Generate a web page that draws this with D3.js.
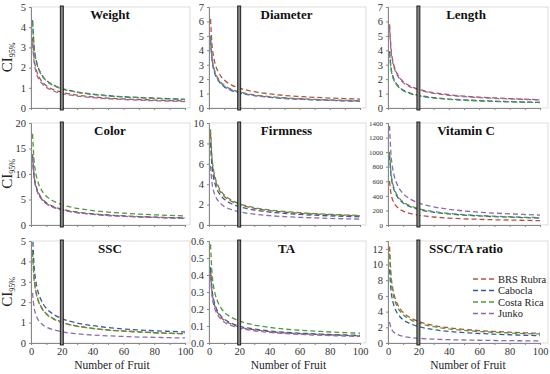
<!DOCTYPE html>
<html>
<head>
<meta charset="utf-8">
<script src="https://cdn.jsdelivr.net/npm/d3@7"></script>
<style>
  body { margin: 0; background: #fff; }
</style>
</head>
<body>
<div id="chart-area"></div>
<script>
// Data //

const fruitN = [1, 2, 3, 4, 5, 6, 8, 10, 15, 20, 30, 40, 50, 60, 70, 80, 90, 100];
const cultivars = ["BRS Rubra", "Cabocla", "Costa Rica", "Junko"];
const cultivarColors = ["#b5533c", "#3a5ba0", "#4e9a3a", "#8c6bb1"];

// one row per cultivar, same order as cultivars
const weightCI = [
  [3.49, 2.46, 2.01, 1.75, 1.56, 1.43, 1.23, 1.10, 0.90, 0.78, 0.64, 0.55, 0.49, 0.45, 0.42, 0.39, 0.37, 0.35],
  [4.34, 3.07, 2.50, 2.17, 1.94, 1.78, 1.53, 1.37, 1.12, 0.97, 0.79, 0.69, 0.61, 0.56, 0.52, 0.49, 0.46, 0.43],
  [4.25, 3.00, 2.45, 2.13, 1.90, 1.74, 1.50, 1.34, 1.10, 0.95, 0.78, 0.67, 0.60, 0.55, 0.51, 0.48, 0.45, 0.42],
  [3.22, 2.28, 1.86, 1.61, 1.44, 1.32, 1.14, 1.02, 0.83, 0.72, 0.59, 0.51, 0.46, 0.42, 0.39, 0.36, 0.34, 0.32]
];
const diameterCI = [
  [6.17, 4.36, 3.56, 3.09, 2.76, 2.53, 2.18, 1.95, 1.59, 1.38, 1.13, 0.98, 0.87, 0.80, 0.74, 0.69, 0.65, 0.62],
  [4.69, 3.32, 2.71, 2.35, 2.10, 1.92, 1.66, 1.48, 1.21, 1.05, 0.86, 0.74, 0.66, 0.61, 0.56, 0.53, 0.49, 0.47],
  [5.01, 3.54, 2.89, 2.51, 2.24, 2.05, 1.77, 1.58, 1.29, 1.12, 0.91, 0.79, 0.71, 0.65, 0.60, 0.56, 0.53, 0.50],
  [4.83, 3.41, 2.79, 2.42, 2.16, 1.98, 1.71, 1.52, 1.25, 1.08, 0.88, 0.76, 0.68, 0.62, 0.58, 0.54, 0.51, 0.48]
];
const lengthCI = [
  [5.81, 4.11, 3.35, 2.91, 2.60, 2.38, 2.05, 1.83, 1.50, 1.30, 1.06, 0.92, 0.82, 0.75, 0.70, 0.65, 0.61, 0.58],
  [3.93, 2.78, 2.27, 1.97, 1.76, 1.61, 1.39, 1.24, 1.02, 0.88, 0.72, 0.62, 0.56, 0.51, 0.47, 0.44, 0.41, 0.39],
  [3.80, 2.69, 2.19, 1.90, 1.70, 1.56, 1.34, 1.20, 0.98, 0.85, 0.69, 0.60, 0.54, 0.49, 0.45, 0.43, 0.40, 0.38],
  [5.59, 3.95, 3.23, 2.80, 2.50, 2.29, 1.98, 1.76, 1.44, 1.25, 1.02, 0.88, 0.79, 0.72, 0.67, 0.63, 0.59, 0.56]
];
const colorCI = [
  [13.9, 9.80, 8.00, 6.94, 6.20, 5.67, 4.90, 4.37, 3.58, 3.10, 2.53, 2.19, 1.96, 1.79, 1.66, 1.55, 1.46, 1.39],
  [13.4, 9.48, 7.74, 6.72, 6.00, 5.49, 4.74, 4.23, 3.47, 3.00, 2.45, 2.12, 1.90, 1.73, 1.61, 1.50, 1.41, 1.34],
  [17.9, 12.6, 10.3, 8.96, 8.00, 7.32, 6.32, 5.64, 4.62, 4.00, 3.26, 2.83, 2.53, 2.31, 2.14, 2.00, 1.88, 1.79],
  [13.2, 9.32, 7.61, 6.61, 5.90, 5.40, 4.66, 4.16, 3.41, 2.95, 2.41, 2.09, 1.86, 1.70, 1.58, 1.48, 1.39, 1.32]
];
const firmnessCI = [
  [8.94, 6.32, 5.16, 4.48, 4.00, 3.66, 3.16, 2.82, 2.31, 2.00, 1.63, 1.41, 1.26, 1.15, 1.07, 1.00, 0.94, 0.89],
  [8.05, 5.69, 4.64, 4.03, 3.60, 3.29, 2.84, 2.54, 2.08, 1.80, 1.47, 1.27, 1.14, 1.04, 0.96, 0.90, 0.85, 0.80],
  [9.39, 6.64, 5.42, 4.70, 4.20, 3.84, 3.32, 2.96, 2.43, 2.10, 1.71, 1.48, 1.33, 1.21, 1.12, 1.05, 0.99, 0.94],
  [5.81, 4.11, 3.35, 2.91, 2.60, 2.38, 2.05, 1.83, 1.50, 1.30, 1.06, 0.92, 0.82, 0.75, 0.70, 0.65, 0.61, 0.58]
];
const vitaminCCI = [
  [603, 427, 348, 302, 270, 247, 213, 190, 156, 135, 110, 95, 85, 78, 72, 68, 64, 60],
  [961, 679, 555, 482, 430, 393, 340, 303, 248, 215, 175, 152, 136, 124, 115, 108, 101, 96],
  [1006, 711, 581, 504, 450, 412, 356, 317, 260, 225, 184, 159, 142, 130, 120, 113, 106, 101],
  [1363, 964, 787, 683, 610, 558, 482, 430, 352, 305, 249, 216, 193, 176, 163, 153, 144, 136]
];
const sscCI = [
  [4.56, 3.22, 2.63, 2.28, 2.04, 1.87, 1.61, 1.44, 1.18, 1.02, 0.83, 0.72, 0.64, 0.59, 0.55, 0.51, 0.48, 0.46],
  [5.36, 3.79, 3.10, 2.69, 2.40, 2.20, 1.90, 1.69, 1.39, 1.20, 0.98, 0.85, 0.76, 0.69, 0.64, 0.60, 0.57, 0.54],
  [4.47, 3.16, 2.58, 2.24, 2.00, 1.83, 1.58, 1.41, 1.16, 1.00, 0.82, 0.71, 0.63, 0.58, 0.54, 0.50, 0.47, 0.45],
  [2.46, 1.74, 1.42, 1.23, 1.10, 1.01, 0.87, 0.78, 0.64, 0.55, 0.45, 0.39, 0.35, 0.32, 0.29, 0.28, 0.26, 0.25]
];
const taCI = [
  [0.425, 0.300, 0.245, 0.213, 0.190, 0.174, 0.150, 0.134, 0.110, 0.095, 0.078, 0.067, 0.060, 0.055, 0.051, 0.048, 0.045, 0.042],
  [0.447, 0.316, 0.258, 0.224, 0.200, 0.183, 0.158, 0.141, 0.116, 0.100, 0.082, 0.071, 0.063, 0.058, 0.054, 0.050, 0.047, 0.045],
  [0.581, 0.411, 0.335, 0.291, 0.260, 0.238, 0.205, 0.183, 0.150, 0.130, 0.106, 0.092, 0.082, 0.075, 0.070, 0.065, 0.061, 0.058],
  [0.393, 0.278, 0.227, 0.197, 0.176, 0.161, 0.139, 0.124, 0.102, 0.088, 0.072, 0.062, 0.056, 0.051, 0.047, 0.044, 0.041, 0.039]
];
const ratioCI = [
  [12.3, 8.69, 7.10, 6.16, 5.50, 5.03, 4.35, 3.88, 3.18, 2.75, 2.24, 1.94, 1.74, 1.59, 1.47, 1.38, 1.30, 1.23],
  [9.39, 6.64, 5.42, 4.70, 4.20, 3.84, 3.32, 2.96, 2.43, 2.10, 1.71, 1.48, 1.33, 1.21, 1.12, 1.05, 0.99, 0.94],
  [11.4, 8.06, 6.58, 5.71, 5.10, 4.67, 4.03, 3.60, 2.95, 2.55, 2.08, 1.80, 1.61, 1.47, 1.36, 1.28, 1.20, 1.14],
  [2.68, 1.90, 1.55, 1.34, 1.20, 1.10, 0.95, 0.85, 0.69, 0.60, 0.49, 0.42, 0.38, 0.35, 0.32, 0.30, 0.28, 0.27]
];

const titles = ["Weight", "Diameter", "Length", "Color", "Firmness", "Vitamin C", "SSC", "TA", "SSC/TA ratio"];
const yMax = [5, 7, 7, 20, 10, 1400, 5, 0.6, 13];
const yTicks = [
  [0, 1, 2, 3, 4, 5], [0, 1, 2, 3, 4, 5, 6, 7], [0, 1, 2, 3, 4, 5, 6, 7],
  [0, 5, 10, 15, 20], [0, 2, 4, 6, 8, 10], [0, 200, 400, 600, 800, 1000, 1200, 1400],
  [0, 1, 2, 3, 4, 5], [0, 0.1, 0.2, 0.3, 0.4, 0.5, 0.6], [0, 2, 4, 6, 8, 10, 12]
];
const xTicks = [0, 20, 40, 60, 80, 100];
const panelData = [weightCI, diameterCI, lengthCI, colorCI, firmnessCI, vitaminCCI, sscCI, taCI, ratioCI];
const markedN = 20;

// Layout (pixels) //

const colLeft = [31, 209, 388];
const colRight = [185, 360, 540];   // where n = 100 falls
const colFrame = [190, 366, 548];   // right edge of plot frame
const rowTop = [7, 123, 241];
const rowBottom = [108, 225, 343];
const serif = "Liberation Serif";

const svg = d3.select("#chart-area")
  .append("svg")
  .attr("width", 550)
  .attr("height", 374)
  .attr("font-family", serif);

const line = d3.line().curve(d3.curveMonotoneX);

titles.forEach((title, i) => {
  const col = i % 3, row = Math.floor(i / 3);
  const x = d3.scaleLinear().domain([0, 100]).range([colLeft[col], colRight[col]]);
  const y = d3.scaleLinear().domain([0, yMax[i]]).range([rowBottom[row], rowTop[row]]);
  const g = svg.append("g");

  // plot frame
  g.append("rect")
    .attr("x", colLeft[col]).attr("y", rowTop[row])
    .attr("width", colFrame[col] - colLeft[col])
    .attr("height", rowBottom[row] - rowTop[row])
    .attr("fill", "none").attr("stroke", "#d4d4d4").attr("stroke-width", 0.8);

  const clipId = "clip" + i;
  g.append("clipPath").attr("id", clipId)
    .append("rect")
    .attr("x", colLeft[col]).attr("y", rowTop[row])
    .attr("width", colFrame[col] - colLeft[col])
    .attr("height", rowBottom[row] - rowTop[row]);

  // y axis
  const fmt = i === 7 ? d3.format(".1f") : d3.format("d");
  const yAxis = g.append("g")
    .attr("transform", "translate(" + colLeft[col] + ",0)")
    .call(d3.axisLeft(y).tickValues(yTicks[i]).tickSize(2).tickPadding(3).tickFormat(fmt))
    .attr("font-family", serif)
    .attr("font-size", i === 5 ? 7 : 10.5);
  yAxis.select(".domain").attr("stroke", "#888");
  yAxis.selectAll(".tick line").attr("stroke", "#888");
  yAxis.selectAll("text").attr("fill", "#333");

  // x axis
  const xAxis = g.append("g")
    .attr("transform", "translate(0," + rowBottom[row] + ")")
    .call(d3.axisBottom(x).tickValues(d3.range(0, 101, 10)).tickSize(2).tickPadding(3)
      .tickFormat(d => (row === 2 && xTicks.includes(d)) ? d : ""))
    .attr("font-family", serif)
    .attr("font-size", 10.5);
  xAxis.select(".domain").attr("stroke", "#888");
  xAxis.selectAll(".tick line").attr("stroke", "#888");
  xAxis.selectAll("text").attr("fill", "#333");

  // curves
  const curves = g.append("g").attr("clip-path", "url(#" + clipId + ")");
  panelData[i].forEach((vals, k) => {
    curves.append("path")
      .attr("d", line(fruitN.map((n, j) => [x(n), y(vals[j])])))
      .attr("fill", "none")
      .attr("stroke", cultivarColors[k])
      .attr("stroke-width", 1.3)
      .attr("stroke-dasharray", "5,3");
  });

  // marker at n = 20
  g.append("rect")
    .attr("x", x(markedN) - 1.5)
    .attr("y", rowTop[row] - 1)
    .attr("width", 3)
    .attr("height", rowBottom[row] - rowTop[row] + 3)
    .attr("fill", "#888")
    .attr("stroke", "#111")
    .attr("stroke-width", 0.9);

  // title
  g.append("text")
    .attr("x", (colLeft[col] + colRight[col]) / 2 + 2)
    .attr("y", rowTop[row] + 12)
    .attr("text-anchor", "middle")
    .attr("font-size", 13)
    .attr("font-weight", "bold")
    .attr("fill", "#111")
    .text(title);

  // x label
  if (row === 2) {
    g.append("text")
      .attr("x", (colLeft[col] + colRight[col]) / 2 + 4)
      .attr("y", 369)
      .attr("text-anchor", "middle")
      .attr("font-size", 11.5)
      .attr("fill", "#222")
      .text("Number of Fruit");
  }
});

// y labels: CI95%
rowTop.forEach((top, r) => {
  const mid = (top + rowBottom[r]) / 2;
  const t = svg.append("text")
    .attr("transform", "translate(12," + mid + ") rotate(-90)")
    .attr("text-anchor", "middle")
    .attr("font-size", 15)
    .attr("fill", "#222");
  t.append("tspan").text("CI");
  t.append("tspan").attr("font-size", 8).attr("dy", 3).text("95%");
});

// Legend (SSC/TA panel)
const legend = svg.append("g");
cultivars.forEach((name, k) => {
  const ly = 279 + k * 11.5;
  legend.append("line")
    .attr("x1", 473).attr("x2", 495)
    .attr("y1", ly).attr("y2", ly)
    .attr("stroke", cultivarColors[k])
    .attr("stroke-width", 1.3)
    .attr("stroke-dasharray", "5,3");
  legend.append("text")
    .attr("x", 498).attr("y", ly + 3.5)
    .attr("font-size", 10.5)
    .attr("fill", "#222")
    .text(name);
});
</script>
</body>
</html>
